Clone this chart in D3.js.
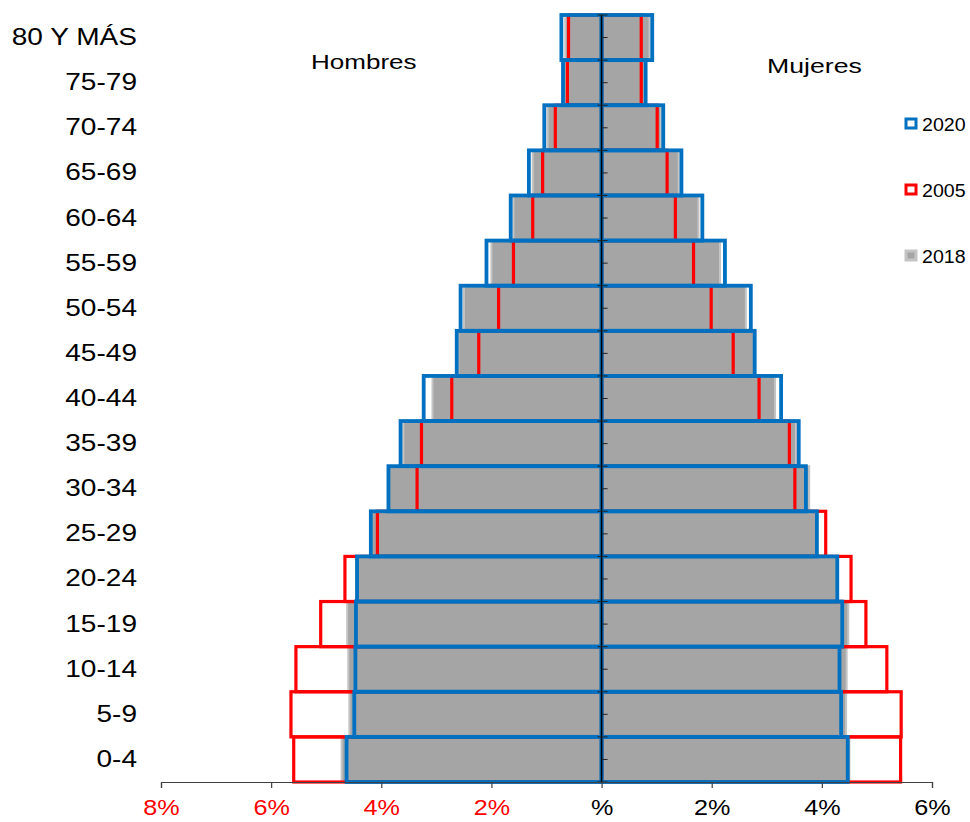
<!DOCTYPE html>
<html>
<head>
<meta charset="utf-8">
<script src="https://cdn.jsdelivr.net/npm/d3@7"></script>
<style>
  html, body { margin: 0; padding: 0; background: #ffffff; }
  svg { display: block; font-family: "Liberation Sans", Arial, sans-serif; }
</style>
</head>
<body>
<svg id="chart" width="970" height="822"></svg>
<script>
// ---- DATA (bottom to top) ----
const ages = ["0-4","5-9","10-14","15-19","20-24","25-29","30-34","35-39","40-44","45-49","50-54","55-59","60-64","65-69","70-74","75-79","80 Y MÁS"];

const men2020   = [4.63, 4.49, 4.47, 4.46, 4.44, 4.19, 3.87, 3.65, 3.23, 2.63, 2.56, 2.09, 1.65, 1.32, 1.04, 0.70, 0.73];
const men2005   = [5.59, 5.64, 5.55, 5.10, 4.66, 4.07, 3.35, 3.27, 2.72, 2.23, 1.87, 1.60, 1.25, 1.07, 0.84, 0.62, 0.60];
const men2018   = [4.72, 4.58, 4.60, 4.62, 4.46, 4.18, 3.87, 3.60, 3.07, 2.60, 2.50, 2.00, 1.60, 1.25, 0.98, 0.68, 0.66];

const women2020 = [4.47, 4.35, 4.32, 4.37, 4.28, 3.91, 3.71, 3.58, 3.26, 2.78, 2.71, 2.24, 1.83, 1.45, 1.12, 0.80, 0.92];
const women2005 = [5.43, 5.44, 5.18, 4.80, 4.53, 4.07, 3.51, 3.41, 2.86, 2.39, 1.99, 1.67, 1.34, 1.19, 1.01, 0.72, 0.72];
const women2018 = [4.50, 4.44, 4.45, 4.48, 4.27, 3.90, 3.77, 3.53, 3.15, 2.79, 2.62, 2.15, 1.76, 1.40, 1.08, 0.78, 0.87];

const xTicks = [-8, -6, -4, -2, 0, 2, 4, 6];
const legendItems = ["2020", "2005", "2018"];

// ---- STYLE ----
const BLUE = "#0070c0", RED = "#ff0000", GRAY = "#a5a5a5", GRAY_EDGE = "#c4c4c4";

const svg = d3.select("#chart");

const x = d3.scaleLinear().domain([-8, 6]).range([161, 932]);
const y = d3.scaleBand().domain(ages.slice().reverse()).range([15, 782]).padding(0);

function rows(men, women) {
  const out = [];
  ages.forEach((a, i) => {
    out.push({age: a, v0: -men[i], v1: 0});
    out.push({age: a, v0: 0, v1: women[i]});
  });
  return out;
}

function drawBars(data, cls, fill, stroke, sw) {
  svg.append("g").attr("class", cls)
    .selectAll("rect").data(data).join("rect")
    .attr("x", d => x(d.v0))
    .attr("width", d => x(d.v1) - x(d.v0))
    .attr("y", d => y(d.age))
    .attr("height", y.bandwidth())
    .attr("fill", fill)
    .attr("stroke", stroke)
    .attr("stroke-width", sw);
}

drawBars(rows(men2018, women2018), "s2018", GRAY, GRAY_EDGE, 2);
drawBars(rows(men2005, women2005), "s2005", "none", RED, 3.2);
drawBars(rows(men2020, women2020), "s2020", "none", BLUE, 3.8);

// ---- center axis ----
const cx = x(0);
const cAxis = svg.append("g").attr("class", "center-axis");
cAxis.append("line")
  .attr("x1", cx).attr("x2", cx)
  .attr("y1", y.range()[0]).attr("y2", y.range()[1])
  .attr("stroke", "#000").attr("stroke-width", 1.6);
const bounds = y.domain().map(a => y(a)).concat([y.range()[1]]);
cAxis.selectAll("line.major").data(bounds).join("line").attr("class", "major")
  .attr("x1", cx - 4).attr("x2", cx + 6)
  .attr("y1", d => d).attr("y2", d => d)
  .attr("stroke", "#222").attr("stroke-width", 1);
cAxis.selectAll("line.minor").data(y.domain()).join("line").attr("class", "minor")
  .attr("x1", cx).attr("x2", cx + 6)
  .attr("y1", d => y(d) + y.bandwidth() / 2).attr("y2", d => y(d) + y.bandwidth() / 2)
  .attr("stroke", "#222").attr("stroke-width", 1);

// ---- category labels ----
svg.append("g").attr("class", "cat-labels")
  .selectAll("text").data(ages).join("text")
  .attr("transform", d => `translate(137,${y(d) + y.bandwidth() / 2 + 7.5}) scale(1.22,1)`)
  .attr("text-anchor", "end")
  .attr("font-size", 23)
  .attr("fill", "#000")
  .text(d => d);

// ---- bottom axis ----
const xAxis = d3.axisBottom(x)
  .tickValues(xTicks)
  .tickSize(6)
  .tickFormat(d => d === 0 ? "%" : Math.abs(d) + "%");
const gx = svg.append("g").attr("class", "x-axis")
  .attr("transform", "translate(0,782)")
  .call(xAxis);
gx.select(".domain").attr("stroke", "#404040").attr("stroke-width", 1.2);
gx.selectAll(".tick line").attr("stroke", "#404040").attr("stroke-width", 1.2);
gx.selectAll(".tick text")
  .attr("y", 0).attr("dy", 0)
  .attr("transform", "translate(0,33) scale(1.12,1)")
  .attr("font-size", 22.5)
  .attr("font-family", "'Liberation Sans', Arial, sans-serif")
  .attr("fill", d => d < 0 ? RED : "#000");

// ---- side titles ----
svg.append("text")
  .attr("transform", "translate(311,69) scale(1.24,1)")
  .attr("font-size", 21).attr("fill", "#000").text("Hombres");
svg.append("text")
  .attr("transform", "translate(767,73) scale(1.27,1)")
  .attr("font-size", 21).attr("fill", "#000").text("Mujeres");

// ---- legend ----
const legY = [124, 190, 256];
const legStyles = {
  "2020": {fill: "#fff", stroke: BLUE},
  "2005": {fill: "#fff", stroke: RED},
  "2018": {fill: GRAY, stroke: GRAY_EDGE}
};
const leg = svg.append("g").attr("class", "legend")
  .selectAll("g").data(legendItems).join("g")
  .attr("transform", (d, i) => `translate(0,${legY[i]})`);
leg.append("rect")
  .attr("x", 906).attr("y", -5).attr("width", 10).attr("height", 9)
  .attr("fill", d => legStyles[d].fill)
  .attr("stroke", d => legStyles[d].stroke)
  .attr("stroke-width", 3);
leg.append("text")
  .attr("transform", "translate(922,6.5) scale(1.12,1)")
  .attr("font-size", 17.5).attr("fill", "#000")
  .text(d => d);
</script>
</body>
</html>
